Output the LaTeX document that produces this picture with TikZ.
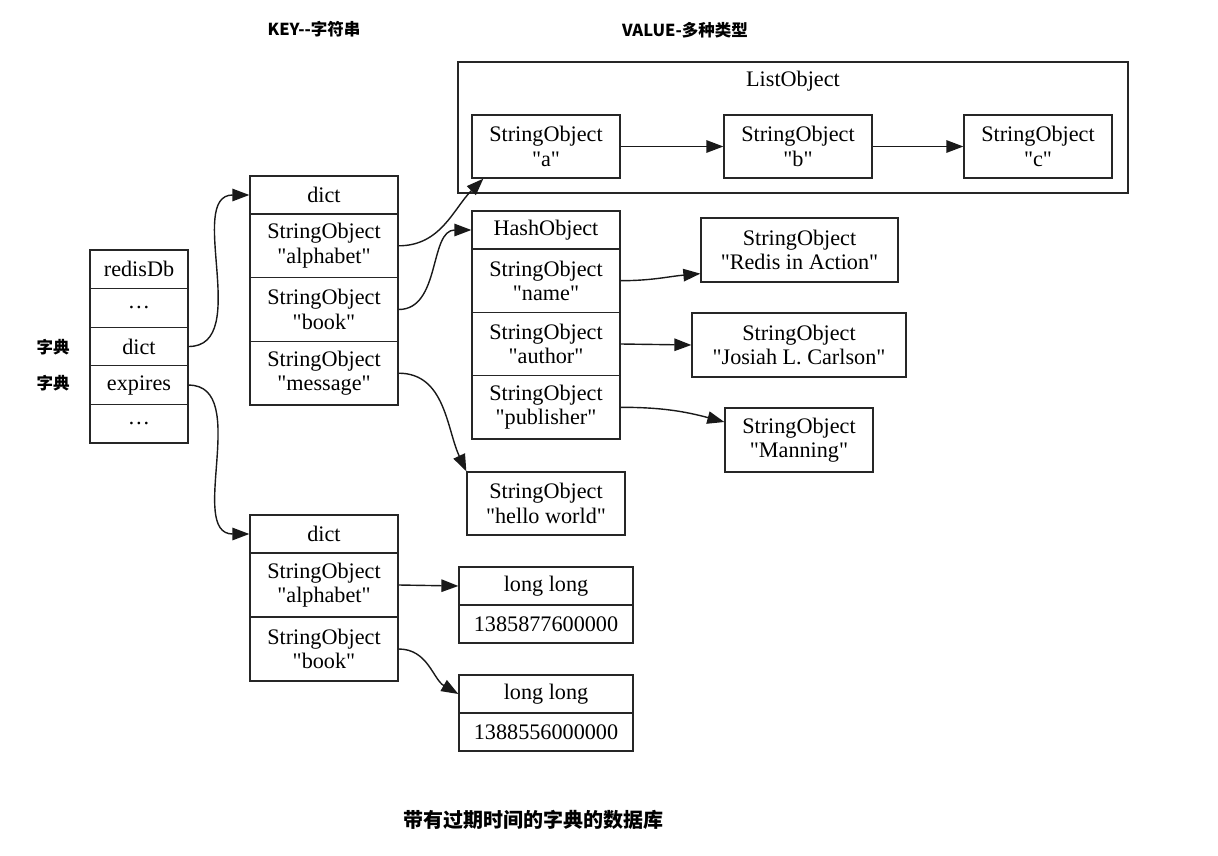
\documentclass[tikz,border=0pt]{standalone}
\usepackage{fontspec}
\setmainfont{Liberation Serif}
\newfontfamily\cjk{Noto Sans CJK SC}
\usetikzlibrary{arrows.meta,calc}
\newcommand\qq[1]{\textquotedbl#1\textquotedbl}
\tikzset{
  box/.style={draw=black!85, line width=1.3pt, inner sep=0pt, align=center,
    font={\fontsize{22.2}{24.5}\selectfont}},
  sz/.style 2 args={minimum width=#1, minimum height=#2},
  edge/.style={line width=1.4pt, draw=black!90, -{Triangle[length=17pt,width=12.5pt]}},
  cjkl/.style={font={\cjk\bfseries\fontsize{16.5}{20}\selectfont}},
  title/.style={font={\cjk\bfseries\fontsize{16.5}{20}\selectfont}},
}
\begin{document}
\begin{tikzpicture}[x=1pt,y=-1pt]
\useasboundingbox (0,0) rectangle (1218,856);

% redisDb
\node[box,sz={98pt}{38.6pt}] (r0) at (139,269.3) {redisDb};
\node[box,sz={98pt}{38.6pt}] (r1) at (139,307.9) {\ldots};
\node[box,sz={98pt}{38.6pt}] (r2) at (139,346.5) {dict};
\node[box,sz={98pt}{38.6pt}] (r3) at (139,385.1) {expires};
\node[box,sz={98pt}{38.6pt}] (r4) at (139,423.7) {\ldots};

\node[cjkl] (k1) at (53,347) {字典};
\node[cjkl] (k2) at (53,383) {字典};

% dict 1
\node[box,sz={148pt}{38pt}] (d1h) at (324,195) {dict};
\node[box,sz={148pt}{63.7pt}] (d1a) at (324,245.8) {StringObject\\ \qq{alphabet}};
\node[box,sz={148pt}{63.7pt}] (d1b) at (324,309.5) {StringObject\\ \qq{book}};
\node[box,sz={148pt}{63.7pt}] (d1m) at (324,373.2) {StringObject\\ \qq{message}};

% list object
\node[box,sz={670pt}{131pt}] (lst) at (793,127.5) {};
\node[font={\fontsize{22.2}{24.5}\selectfont}] (lstl) at (793,81) {ListObject};
\node[box,sz={148pt}{63pt}] (sa) at (546,146.5) {StringObject\\ \qq{a}};
\node[box,sz={148pt}{63pt}] (sb) at (798,146.5) {StringObject\\ \qq{b}};
\node[box,sz={148pt}{63pt}] (sc) at (1038,146.5) {StringObject\\ \qq{c}};

% hash object
\node[box,sz={148pt}{38pt}] (hh) at (546,230) {HashObject};
\node[box,sz={148pt}{63.3pt}] (hn) at (546,280.7) {StringObject\\ \qq{name}};
\node[box,sz={148pt}{63.3pt}] (ha) at (546,344) {StringObject\\ \qq{author}};
\node[box,sz={148pt}{63.3pt}] (hp) at (546,407.3) {StringObject\\ \qq{publisher}};

\node[box,sz={197pt}{64pt}] (rA) at (799.5,250) {StringObject\\ \qq{Redis in Action}};
\node[box,sz={214pt}{64pt}] (jo) at (799,345) {StringObject\\ \qq{Josiah L. Carlson}};
\node[box,sz={148pt}{64pt}] (mn) at (799,440) {StringObject\\ \qq{Manning}};
\node[box,sz={158pt}{63pt}] (hw) at (546,503.5) {StringObject\\ \qq{hello world}};

% dict 2
\node[box,sz={148pt}{38pt}] (d2h) at (324,534) {dict};
\node[box,sz={148pt}{64pt}] (d2a) at (324,585) {StringObject\\ \qq{alphabet}};
\node[box,sz={148pt}{64pt}] (d2b) at (324,649) {StringObject\\ \qq{book}};

% long long
\node[box,sz={174pt}{38pt}] (l1h) at (546,586) {long long};
\node[box,sz={174pt}{38pt}] (l1v) at (546,624) {1385877600000};
\node[box,sz={174pt}{38pt}] (l2h) at (546,694) {long long};
\node[box,sz={174pt}{38pt}] (l2v) at (546,732) {1388556000000};

% titles
\node[title] (t1) at (314,29) {KEY--字符串};
\node[title] (t2) at (685,30) {VALUE-多种类型};
\node[font={\cjk\bfseries\fontsize{20}{24}\selectfont}] (cap) at (533,820) {带有过期时间的字典的数据库};

% edges
\draw[edge] (r2.east) to[out=0,in=180] (d1h.west);
\draw[edge] (r3.east) to[out=0,in=180] (d2h.west);
\draw[edge] (d1a.east) to[out=0,in=225] ($(sa.south west)+(12,0)$);
\draw[edge] (d1b.east) to[out=0,in=180] (hh.west);
\draw[edge] (d1m.east) to[out=0,in=115] (hw.north west);
\draw[edge] (sa) -- (sb);
\draw[edge] (sb) -- (sc);
\draw[edge] (hn.east) to[out=0,in=185] ($(rA.south west)+(0,-9)$);
\draw[edge] (ha.east) -- (jo.west);
\draw[edge] (hp.east) to[out=0,in=165] ($(mn.west)+(0,-18)$);
\draw[edge] (d2a.east) -- (l1h.west);
\draw[edge] (d2b.east) to[out=0,in=150] (l2h.west);
\end{tikzpicture}
\end{document}
